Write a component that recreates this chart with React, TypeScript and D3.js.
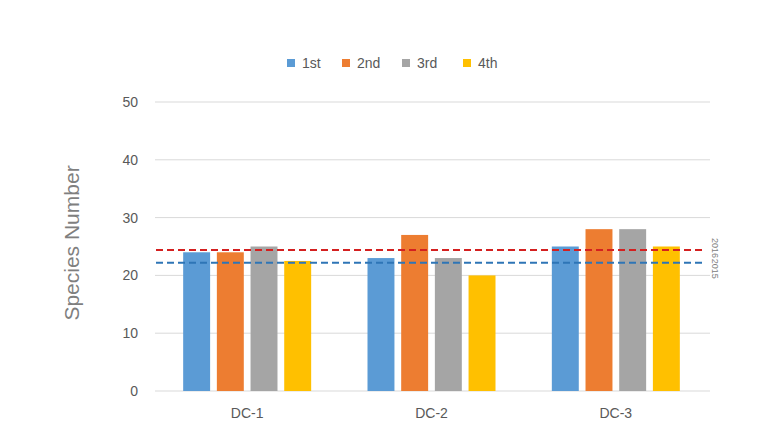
import React, { useEffect, useRef } from 'react';
import * as d3 from 'd3';

const categories = ['DC-1', 'DC-2', 'DC-3'];
const seriesNames = ['1st', '2nd', '3rd', '4th'];
const seriesColors = ['#5b9bd5', '#ed7d31', '#a5a5a5', '#ffc000'];
// values per series, one per category
const values = [
  [24, 23, 25],
  [24, 27, 28],
  [25, 23, 28],
  [22.5, 20, 25],
];
const yTicks = [0, 10, 20, 30, 40, 50];
const refLines = [
  { label: '2016', value: 24.4, color: '#d42020', shift: -2 },
  { label: '2015', value: 22.2, color: '#2e75b6', shift: 6 },
];

const W = 781;
const H = 438;

const App = () => {
  const svgRef = useRef<SVGSVGElement>(null);

  useEffect(() => {
    const svg = d3.select(svgRef.current);
    svg.selectAll('*').remove();
    const font = "'Liberation Sans', Arial, sans-serif";

    const y = d3.scaleLinear().domain([0, 50]).range([391, 102]);
    const x0 = d3.scaleBand().domain(categories).range([155, 708]).padding(0);
    const bw = x0.bandwidth();
    const x1 = d3.scaleBand().domain(seriesNames)
      .range([bw / 2 - 64, bw / 2 + 64]).paddingInner(0.2).paddingOuter(0);

    // gridlines
    svg.append('g').selectAll('line')
      .data(yTicks).enter().append('line')
      .attr('x1', 155).attr('x2', 710)
      .attr('y1', d => y(d)).attr('y2', d => y(d))
      .attr('stroke', '#d9d9d9').attr('stroke-width', 1);

    // y tick labels
    svg.append('g').selectAll('text')
      .data(yTicks).enter().append('text')
      .attr('x', 138).attr('y', d => y(d))
      .attr('dy', '0.35em').attr('text-anchor', 'end')
      .style('font-family', font).style('font-size', '14px')
      .attr('fill', '#595959').text(d => d);

    // bars
    const groups = svg.append('g').selectAll('g')
      .data(categories).enter().append('g')
      .attr('transform', d => `translate(${x0(d)},0)`);
    groups.selectAll('rect')
      .data((c, ci) => seriesNames.map((s, si) => ({ s, si, v: values[si][ci] })))
      .enter().append('rect')
      .attr('x', d => x1(d.s) as number)
      .attr('width', x1.bandwidth())
      .attr('y', d => y(d.v))
      .attr('height', d => y(0) - y(d.v))
      .attr('fill', d => seriesColors[d.si]);

    // reference dashed lines
    refLines.forEach(r => {
      svg.append('line')
        .attr('x1', 156).attr('x2', 706)
        .attr('y1', y(r.value)).attr('y2', y(r.value))
        .attr('stroke', r.color).attr('stroke-width', 2)
        .attr('stroke-dasharray', '7,4');
      svg.append('text')
        .attr('transform', `translate(${711},${y(r.value) + r.shift}) rotate(90)`)
        .attr('text-anchor', 'middle').attr('dy', '-0.15em')
        .style('font-family', font).style('font-size', '9px')
        .attr('fill', '#808080').text(r.label);
    });

    // category labels
    svg.append('g').selectAll('text')
      .data(categories).enter().append('text')
      .attr('x', d => (x0(d) as number) + bw / 2).attr('y', 418)
      .attr('text-anchor', 'middle')
      .style('font-family', font).style('font-size', '14px')
      .attr('fill', '#595959').text(d => d);

    // y axis title
    svg.append('text')
      .attr('transform', `translate(79,${243}) rotate(-90)`)
      .attr('text-anchor', 'middle')
      .style('font-family', font).style('font-size', '21px')
      .attr('fill', '#7f7f7f').text('Species Number');

    // legend
    const legendX = [287, 342, 402, 463];
    const leg = svg.append('g').selectAll('g')
      .data(seriesNames).enter().append('g')
      .attr('transform', (d, i) => `translate(${legendX[i]},63)`);
    leg.append('rect')
      .attr('x', 0).attr('y', -4).attr('width', 8).attr('height', 8)
      .attr('fill', (d, i) => seriesColors[i]);
    leg.append('text')
      .attr('x', 15).attr('dy', '0.35em')
      .style('font-family', font).style('font-size', '14px')
      .attr('fill', '#595959').text(d => d);
  }, []);

  return (
    <svg ref={svgRef} width={W} height={H}
      style={{ position: 'absolute', left: 0, top: 0, background: '#fff' }} />
  );
};

export default App;
